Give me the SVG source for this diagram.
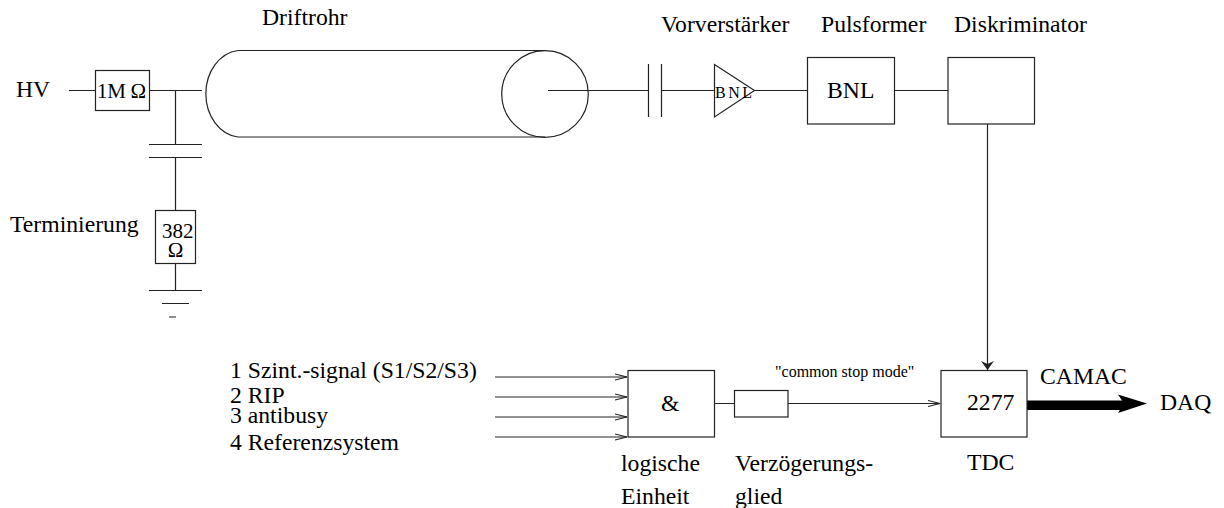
<svg xmlns="http://www.w3.org/2000/svg" width="1224" height="508" viewBox="0 0 1224 508">
<style>
text{font-family:"Liberation Serif","Times New Roman",serif;font-size:23.7px;fill:#000}
.s{font-size:16px}
.m{font-size:21px}
.l{fill:none;stroke:#222;stroke-width:1.2}
.b{fill:#fff;stroke:#222;stroke-width:1.2}
</style>
<defs>
<marker id="open" markerUnits="userSpaceOnUse" markerWidth="14" markerHeight="10" refX="12" refY="5" orient="auto"><path d="M0 2L12 5L0 8" fill="none" stroke="#222" stroke-width="1.1"/></marker>
<marker id="solid" markerUnits="userSpaceOnUse" markerWidth="10" markerHeight="18" refX="9" refY="9" orient="auto"><path d="M0 2.5L9 9L0 15.5L3 9Z" fill="#222"/></marker>
</defs>
<g id="connectors">
<path class="l" d="M69 90.5H95M149 90.5H202M175.500 90.500V144M175.500 157V210M175.500 264V290M548 90.500H648M661.500 90.500H714M754 90.500H808M895 90.500H948M714 403.500H734M149 144.500H202M149 157.500H202M149 290.500H202M162 303.500H189M169 317H176M648.500 64V117M661.500 64V117"/>
<path class="l" d="M495 377H627" marker-end="url(#open)"/>
<path class="l" d="M495 397H627" marker-end="url(#open)"/>
<path class="l" d="M495 417H627" marker-end="url(#open)"/>
<path class="l" d="M495 437H627" marker-end="url(#open)"/>
<path class="l" d="M788 403.500H940" marker-end="url(#open)"/>
<path class="l" d="M987.500 124V370" marker-end="url(#solid)"/>
<path d="M1027 400.500H1125V410H1027Z" fill="#000"/>
<path d="M1118 394.500L1147 403.500L1118 413L1124 403.500Z" fill="#000"/>
</g>
<g id="hv"><text x="16" y="97">HV</text></g>
<g id="resistor-1m"><rect class="b" x="95.500" y="70.500" width="54" height="40"/><text x="97" y="98" class="m" textLength="49">1M Ω</text></g>
<g id="driftrohr"><text x="262" y="25">Driftrohr</text>
<path class="l" d="M238 50.500A36 43.500 0 0 0 238 137H545M238 50.500H545"/>
<circle class="l" cx="545" cy="94" r="43.300"/></g>
<g id="terminierung"><text x="10" y="232">Terminierung</text>
<rect class="b" x="155.500" y="210.500" width="40" height="53"/>
<text x="162" y="238" class="m">382</text><text x="175.500" y="257" class="m" text-anchor="middle">Ω</text></g>
<g id="vorverstaerker"><text x="661" y="32">Vorverstärker</text>
<path class="b" d="M714.500 64.500L754.500 90.500L714.500 117Z"/>
<text x="715" y="98" class="s" textLength="37">BNL</text></g>
<g id="pulsformer"><text x="821" y="32">Pulsformer</text>
<rect class="b" x="807.500" y="57.500" width="87" height="66.500"/><text x="827" y="98">BNL</text></g>
<g id="diskriminator"><text x="954" y="32">Diskriminator</text>
<rect class="b" x="948" y="57.500" width="86.500" height="66.500"/></g>
<g id="inputs">
<text x="230" y="378">1 Szint.-signal (S1/S2/S3)</text>
<text x="230" y="403">2 RIP</text>
<text x="230" y="423">3 antibusy</text>
<text x="230" y="450">4 Referenzsystem</text></g>
<g id="logic"><rect class="b" x="628" y="370.500" width="86.500" height="66.500"/><text x="661" y="411">&amp;</text>
<text x="621" y="471">logische</text><text x="621" y="504">Einheit</text></g>
<g id="delay"><rect class="b" x="734.500" y="390.500" width="53.500" height="26.500"/>
<text x="735" y="471">Verzögerungs-</text><text x="735" y="504">glied</text></g>
<g id="stop"><text x="775" y="377" class="s">"common stop mode"</text></g>
<g id="tdc"><rect class="b" x="941" y="370.500" width="86" height="66.500"/><text x="967" y="410">2277</text><text x="967" y="470">TDC</text></g>
<g id="daq"><text x="1040" y="384">CAMAC</text><text x="1160" y="410">DAQ</text></g>
</svg>
